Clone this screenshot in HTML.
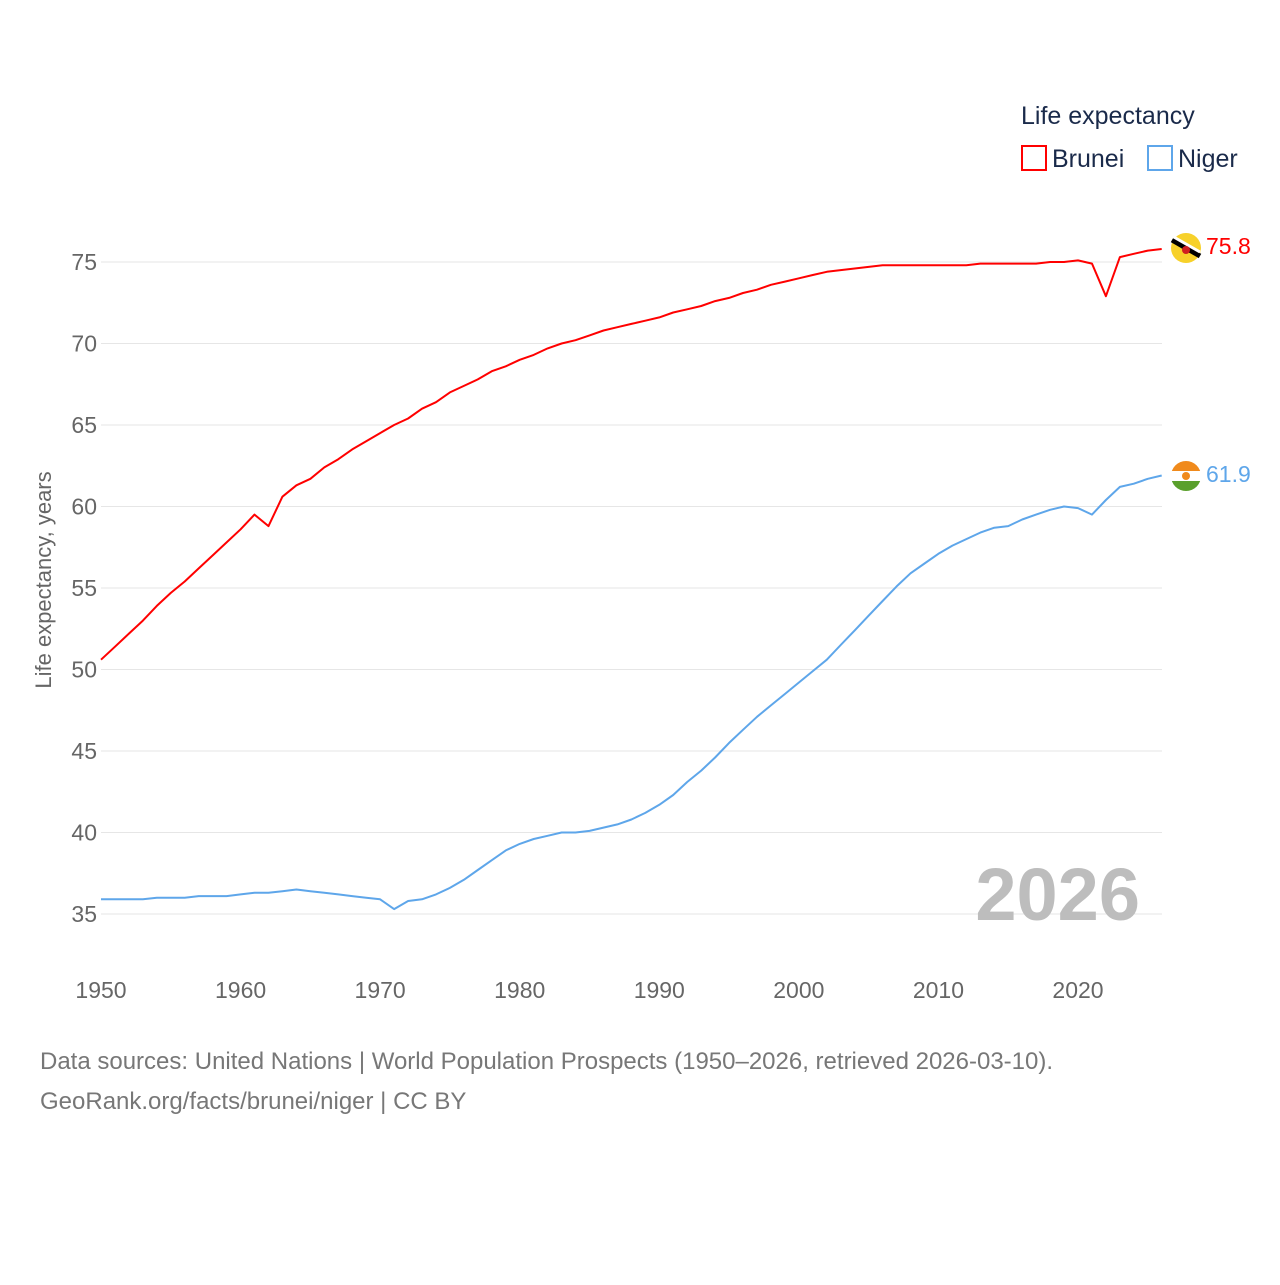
<!DOCTYPE html>
<html><head><meta charset="utf-8">
<style>
body{margin:0;background:#fff;font-family:"Liberation Sans",sans-serif;}
svg text{font-family:"Liberation Sans",sans-serif;}
</style></head>
<body>
<svg id="chart" width="1280" height="1280" viewBox="0 0 1280 1280" xmlns="http://www.w3.org/2000/svg">
<g id="grid"></g>
<g id="yticks"></g>
<g id="xticks"></g>
<text transform="translate(51,580) rotate(-90)" text-anchor="middle" font-size="22" fill="#666">Life expectancy, years</text>
<text x="1140" y="920" text-anchor="end" font-size="74" font-weight="bold" fill="#bdbdbd">2026</text>
<g id="series"></g>
<g>
<text x="1021" y="124" font-size="25" fill="#1a2a4a">Life expectancy</text>
<rect x="1022" y="146" width="24" height="24" fill="none" stroke="#f00" stroke-width="2"/>
<text x="1052" y="167" font-size="25" fill="#1a2a4a">Brunei</text>
<rect x="1148" y="146" width="24" height="24" fill="none" stroke="#5ea6ea" stroke-width="2"/>
<text x="1178" y="167" font-size="25" fill="#1a2a4a">Niger</text>
</g>
<g>
<circle cx="1186" cy="248" r="15" fill="#f7d12a"/>
<line x1="1172" y1="240" x2="1200" y2="256" stroke="#000" stroke-width="5"/>
<line x1="1172" y1="236" x2="1200" y2="252" stroke="#fff" stroke-width="3"/>
<circle cx="1186" cy="250" r="4" fill="#d02020"/>
</g>
<g>
<clipPath id="nc"><circle cx="1186" cy="476" r="15"/></clipPath>
<g clip-path="url(#nc)">
<rect x="1170" y="460" width="32" height="11" fill="#f08a1c"/>
<rect x="1170" y="471" width="32" height="10" fill="#fff"/>
<rect x="1170" y="481" width="32" height="11" fill="#5aa02c"/>
<circle cx="1186" cy="476" r="4" fill="#f08a1c"/>
</g>
</g>
<text x="1206" y="254" font-size="23" fill="#f00">75.8</text>
<text x="1206" y="482" font-size="23" fill="#5ea6ea">61.9</text>
<text x="40" y="1069" font-size="24" fill="#777">Data sources: United Nations | World Population Prospects (1950–2026, retrieved 2026-03-10).</text>
<text x="40" y="1109" font-size="24" fill="#777">GeoRank.org/facts/brunei/niger | CC BY</text>
</svg>
<script>
const years = [];
for (let y = 1950; y <= 2026; y++) years.push(y);
const yTickValues = [35,40,45,50,55,60,65,70,75];
const xTickValues = [1950,1960,1970,1980,1990,2000,2010,2020];
const brunei = [50.6,51.4,52.2,53.0,53.9,54.7,55.4,56.2,57.0,57.8,58.6,59.5,58.8,60.6,61.3,61.7,62.4,62.9,63.5,64.0,64.5,65.0,65.4,66.0,66.4,67.0,67.4,67.8,68.3,68.6,69.0,69.3,69.7,70.0,70.2,70.5,70.8,71.0,71.2,71.4,71.6,71.9,72.1,72.3,72.6,72.8,73.1,73.3,73.6,73.8,74.0,74.2,74.4,74.5,74.6,74.7,74.8,74.8,74.8,74.8,74.8,74.8,74.8,74.9,74.9,74.9,74.9,74.9,75.0,75.0,75.1,74.9,72.9,75.3,75.5,75.7,75.8];
const niger = [35.9,35.9,35.9,35.9,36.0,36.0,36.0,36.1,36.1,36.1,36.2,36.3,36.3,36.4,36.5,36.4,36.3,36.2,36.1,36.0,35.9,35.3,35.8,35.9,36.2,36.6,37.1,37.7,38.3,38.9,39.3,39.6,39.8,40.0,40.0,40.1,40.3,40.5,40.8,41.2,41.7,42.3,43.1,43.8,44.6,45.5,46.3,47.1,47.8,48.5,49.2,49.9,50.6,51.5,52.4,53.3,54.2,55.1,55.9,56.5,57.1,57.6,58.0,58.4,58.7,58.8,59.2,59.5,59.8,60.0,59.9,59.5,60.4,61.2,61.4,61.7,61.9];
const X0=101, X1=1162;
const xs = yr => X0 + (yr-1950)*(1078-101)/70;
const ys = v => 262 + (75-v)*(914-262)/40;
const NS="http://www.w3.org/2000/svg";
function mk(tag, parent){const e=document.createElementNS(NS,tag);parent.appendChild(e);return e;}
const grid=document.getElementById('grid'), yt=document.getElementById('yticks'), xt=document.getElementById('xticks'), ser=document.getElementById('series');
yTickValues.forEach(v=>{
  const l=mk('line',grid);
  
  
  l.setAttribute('x1',X0);l.setAttribute('x2',X1);l.setAttribute('y1',ys(v));l.setAttribute('y2',ys(v));
  l.setAttribute('stroke','#e6e6e6');l.setAttribute('stroke-width','1');
  const t=mk('text',yt);
  
  
  t.setAttribute('x',97);t.setAttribute('y',ys(v)+8);t.setAttribute('text-anchor','end');
  t.setAttribute('font-size','23');t.setAttribute('fill','#666');t.textContent=v;
});
xTickValues.forEach(v=>{
  const t=mk('text',xt);
  
  
  t.setAttribute('x',xs(v));t.setAttribute('y',998);t.setAttribute('text-anchor','middle');
  t.setAttribute('font-size','23');t.setAttribute('fill','#666');t.textContent=v;
});
function line(vals,color,name){
  const p=mk('polyline',ser);
  
  
  p.setAttribute('points',vals.map((v,i)=>xs(years[i]).toFixed(1)+','+ys(v).toFixed(1)).join(' '));
  p.setAttribute('fill','none');p.setAttribute('stroke',color);p.setAttribute('stroke-width','2');
  p.setAttribute('stroke-linejoin','round');
}
line(brunei,'#f00','brunei-line');
line(niger,'#5ea6ea','niger-line');
</script>
</body></html>
